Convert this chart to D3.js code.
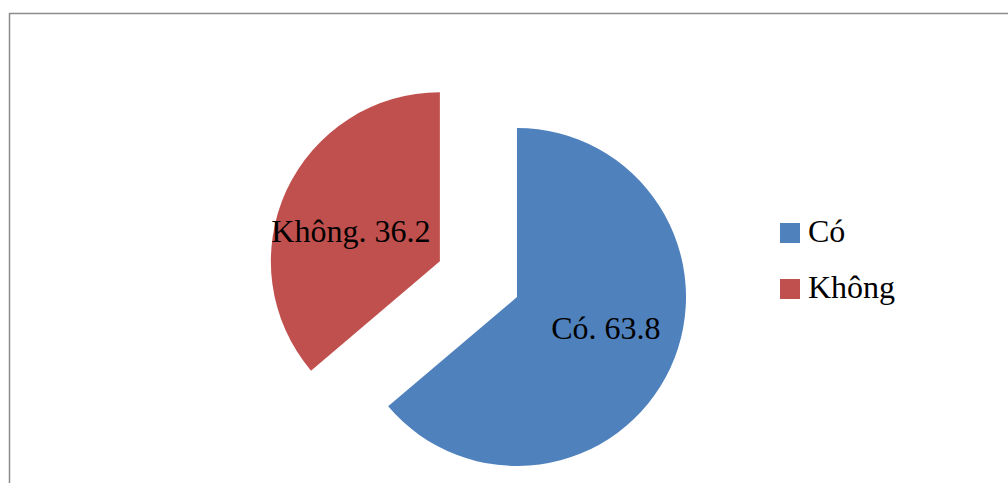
<!DOCTYPE html>
<html>
<head>
<meta charset="utf-8">
<script src="https://cdn.jsdelivr.net/npm/d3@7"></script>
<style>
  body { margin: 0; background: white; }
  svg { display: block; }
</style>
</head>
<body>
<div id="chart"></div>
<script>
// data
const categories = ["Có", "Không"];
const values = [63.8, 36.2];
const colors = ["#4F81BD", "#C0504D"];
const explode = [0, 85];

const w = 1008;
const h = 483;
const radius = 169;
const cx = 517;
const cy = 297;
const font = "'Liberation Serif', 'Times New Roman', 'DejaVu Serif', serif";

const svg = d3.select("#chart")
              .append("svg")
              .attr("width", w)
              .attr("height", h)
              .style("font-family", font);

// chart frame
svg.append("rect")
   .attr("x", 9.5)
   .attr("y", 13.5)
   .attr("width", 1010)
   .attr("height", 500)
   .attr("fill", "white")
   .attr("stroke", "#8c8c8c")
   .attr("stroke-width", 1.5);

const pie = d3.pie().sort(null).value(d => d.value);
const arcs = pie(categories.map((c, i) => ({ name: c, value: values[i], i: i })));

const arc = d3.arc().innerRadius(0).outerRadius(radius);

const slices = svg.selectAll("g.slice")
   .data(arcs)
   .enter()
   .append("g")
   .attr("class", "slice")
   .attr("transform", d => {
      const mid = (d.startAngle + d.endAngle) / 2;
      const off = explode[d.data.i];
      return "translate(" + (cx + Math.sin(mid) * off) + "," + (cy - Math.cos(mid) * off) + ")";
   });

slices.append("path")
   .attr("d", arc)
   .attr("fill", d => colors[d.data.i]);

// labels sit a bit flatter than the centroid, like excel's best fit
slices.append("text")
   .attr("x", d => Math.sin((d.startAngle + d.endAngle) / 2) * radius * 0.58)
   .attr("y", d => -Math.cos((d.startAngle + d.endAngle) / 2) * radius * 0.435)
   .attr("dy", "0.35em")
   .attr("font-family", font)
   .style("text-anchor", "middle")
   .style("font-size", "32px")
   .text(d => d.data.name + ". " + d.data.value);

// legend
const legend = svg.append("g")
   .attr("transform", "translate(780,223)");

const items = legend.selectAll("g")
   .data(categories)
   .enter()
   .append("g")
   .attr("transform", (d, i) => "translate(0," + i * 56 + ")");

items.append("rect")
   .attr("width", 20)
   .attr("height", 20)
   .attr("fill", (d, i) => colors[i]);

items.append("text")
   .attr("x", 28)
   .attr("y", 19)
   .attr("font-family", font)
   .style("font-size", "32px")
   .text(d => d);
</script>
</body>
</html>
